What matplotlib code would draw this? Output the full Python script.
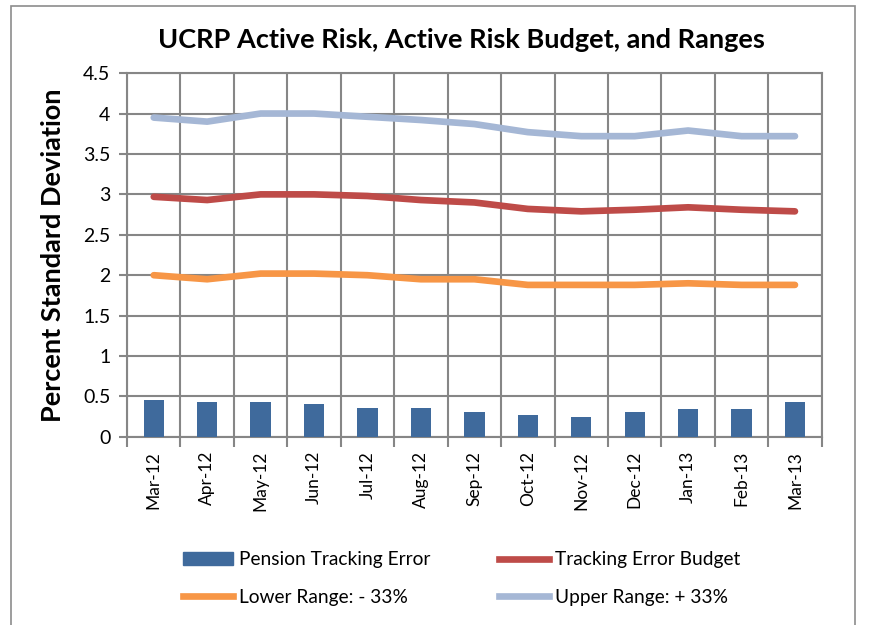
import numpy as np
import matplotlib.pyplot as plt
from matplotlib.patches import Patch, Rectangle
from matplotlib.lines import Line2D

plt.rcParams['font.family'] = ['Lato', 'DejaVu Sans']

months = ['Mar-12', 'Apr-12', 'May-12', 'Jun-12', 'Jul-12', 'Aug-12', 'Sep-12',
          'Oct-12', 'Nov-12', 'Dec-12', 'Jan-13', 'Feb-13', 'Mar-13']
pension_te = [0.46, 0.43, 0.43, 0.41, 0.36, 0.36, 0.31, 0.27, 0.25, 0.31, 0.34, 0.34, 0.43]
te_budget = [2.97, 2.93, 3.00, 3.00, 2.98, 2.93, 2.90, 2.82, 2.79, 2.81, 2.84, 2.81, 2.79]
lower_range = [2.00, 1.95, 2.02, 2.02, 2.00, 1.95, 1.95, 1.88, 1.88, 1.88, 1.90, 1.88, 1.88]
upper_range = [3.95, 3.90, 4.00, 4.00, 3.96, 3.92, 3.87, 3.77, 3.72, 3.72, 3.79, 3.72, 3.72]

c_bar = '#3F6A9C'
c_budget = '#BE4B48'
c_lower = '#F79646'
c_upper = '#A5B7D5'
c_grid = '#868686'

fig = plt.figure(figsize=(8.76, 6.25), dpi=100)
# outer chart border
fig.patches.append(Rectangle((0.012, -0.01), 0.964, 1.0, transform=fig.transFigure,
                             fill=False, edgecolor='#8c8c8c', lw=1.2))
ax = fig.add_axes([0.145, 0.301, 0.793, 0.582])

x = np.arange(len(months))
ax.bar(x, pension_te, width=0.38, color=c_bar, zorder=3)
ax.plot(x, te_budget, color=c_budget, lw=4.8, solid_capstyle='round', zorder=4)
ax.plot(x, lower_range, color=c_lower, lw=4.8, solid_capstyle='round', zorder=4)
ax.plot(x, upper_range, color=c_upper, lw=4.8, solid_capstyle='round', zorder=4)

ax.set_xlim(-0.5, len(months) - 0.5)
ax.set_ylim(0, 4.5)
ax.set_yticks(np.arange(0, 4.51, 0.5))
ax.set_yticklabels(['0', '0.5', '1', '1.5', '2', '2.5', '3', '3.5', '4', '4.5'])
ax.set_xticks(x)
ax.set_xticklabels(months, rotation=90)
ax.set_xticks(np.arange(-0.5, len(months)), minor=True)

ax.tick_params(axis='x', which='major', length=0, labelsize=12.5, pad=10)
ax.tick_params(axis='x', which='minor', length=7, width=1.5, color=c_grid, direction='out')
ax.tick_params(axis='y', length=6, width=1.5, color=c_grid, labelsize=14, pad=6)

ax.grid(True, which='major', axis='y', color=c_grid, lw=1.5, zorder=0)
ax.grid(True, which='minor', axis='x', color=c_grid, lw=1.5, zorder=0)
for s in ax.spines.values():
    s.set_color(c_grid)
    s.set_linewidth(1.5)

ax.set_ylabel('Percent Standard Deviation', fontsize=19.5, fontweight='bold', labelpad=13)
fig.suptitle('UCRP Active Risk, Active Risk Budget, and Ranges', fontsize=19.5,
             fontweight='bold', x=0.527, y=0.936, va='center')

handles = [Patch(color=c_bar), Line2D([], [], color=c_lower, lw=4.8),
           Line2D([], [], color=c_budget, lw=4.8), Line2D([], [], color=c_upper, lw=4.8)]
labels = ['Pension Tracking Error', 'Lower Range: - 33%', 'Tracking Error Budget',
          'Upper Range: + 33%']
fig.legend(handles, labels, ncol=2, loc='center', bbox_to_anchor=(0.527, 0.074),
           frameon=False, fontsize=13.8, handlelength=2.6, columnspacing=3.6,
           labelspacing=1.08, handletextpad=0.3)

fig.savefig('out.png', dpi=100)
